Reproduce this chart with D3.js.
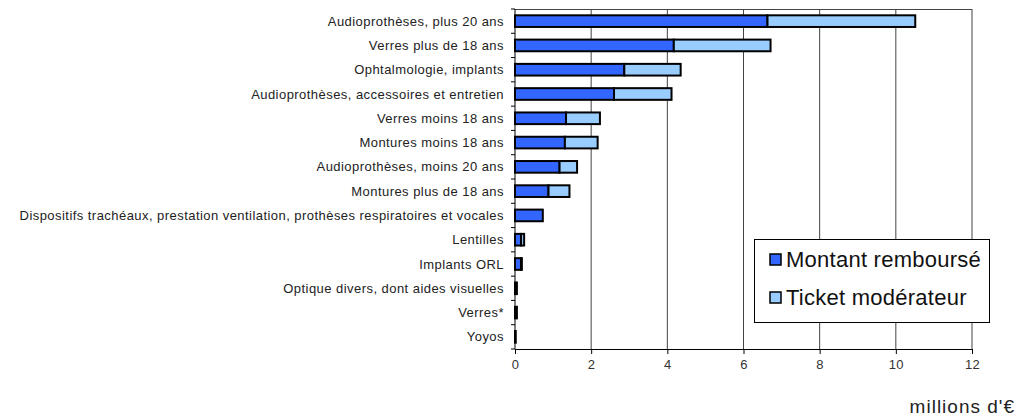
<!DOCTYPE html>
<html><head><meta charset="utf-8">
<script src="https://cdn.jsdelivr.net/npm/d3@7"></script>
<style>body{margin:0;background:#fff}svg{display:block}text{font-family:"Liberation Sans",Arial,sans-serif}</style>
</head><body><svg id="c" width="1021" height="419"></svg>
<script>
const categories = ["Audioprothèses, plus 20 ans","Verres plus de 18 ans","Ophtalmologie, implants","Audioprothèses, accessoires et entretien","Verres moins 18 ans","Montures moins 18 ans","Audioprothèses, moins 20 ans","Montures plus de 18 ans","Dispositifs trachéaux, prestation ventilation, prothèses respiratoires et vocales","Lentilles","Implants ORL","Optique divers, dont aides visuelles","Verres*","Yoyos"];
const montantRembourse = [6.63,4.17,2.87,2.60,1.34,1.31,1.17,0.88,0.73,0.16,0.16,0.05,0.05,0.02];
const ticketModerateur = [3.88,2.54,1.48,1.51,0.89,0.86,0.46,0.55,0.00,0.08,0.02,0.00,0.00,0.00];
const seriesNames = ["Montant remboursé","Ticket modérateur"];
const xTicks = [0,2,4,6,8,10,12];
const colors = ["#3366ff","#99ccff"];

const svg = d3.select("#c");
const L=515, R=972, T=9, B=349;
const x = d3.scaleLinear().domain([0,12]).range([L,R]);
const y = d3.scaleBand().domain(categories).range([T,B]).paddingInner(0.52).paddingOuter(0.26);
const yb = d3.scaleBand().domain(categories).range([T,B]);

// gridlines
svg.append("g").selectAll("line").data(xTicks.slice(1)).join("line")
 .attr("x1",d=>x(d)).attr("x2",d=>x(d)).attr("y1",T).attr("y2",B)
 .attr("stroke","#444").attr("stroke-width",1);
svg.append("line").attr("x1",L).attr("x2",R).attr("y1",T+0.5).attr("y2",T+0.5).attr("stroke","#444");

// bars
const stacks = categories.map((c,i)=>({c, segs:[[0,montantRembourse[i]],[montantRembourse[i],montantRembourse[i]+ticketModerateur[i]]]}));
const gb = svg.append("g");
stacks.forEach(s=>{
  s.segs.forEach((sg,k)=>{
    if(sg[1]-sg[0]<=0) return;
    gb.append("rect").attr("x",x(sg[0])).attr("y",y(s.c)).attr("width",x(sg[1])-x(sg[0])).attr("height",y.bandwidth())
      .attr("fill",colors[k]).attr("stroke","#000").attr("stroke-width",2);
  });
});

// x axis
const xa = svg.append("g").attr("transform",`translate(0,${B})`)
 .call(d3.axisBottom(x).tickValues(xTicks).tickSize(5).tickSizeOuter(0).tickPadding(6));
xa.select(".domain").attr("stroke","#000");
xa.selectAll("line").attr("stroke","#000");
xa.selectAll("text").attr("font-size",13).attr("letter-spacing","0.4px").attr("fill","#333").attr("font-family","Liberation Sans, Arial, sans-serif");

// y axis
svg.append("line").attr("x1",L).attr("x2",L).attr("y1",T).attr("y2",B).attr("stroke","#000");
svg.append("g").selectAll("line").data(categories.concat([null])).join("line")
 .attr("x1",L-4).attr("x2",L).attr("y1",(d,i)=>T+i*yb.step()).attr("y2",(d,i)=>T+i*yb.step()).attr("stroke","#000");
svg.append("g").selectAll("text").data(categories).join("text")
 .attr("x",L-11).attr("y",d=>yb(d)+yb.bandwidth()/2).attr("dy","0.35em")
 .attr("text-anchor","end").attr("font-size",13).attr("letter-spacing","0.45px").attr("fill","#222").text(d=>d);

// legend
const lg = svg.append("g");
lg.append("rect").attr("x",754.5).attr("y",239.5).attr("width",235).attr("height",83).attr("fill","#fff").attr("stroke","#000");
seriesNames.forEach((n,i)=>{
  const yy = 254 + i*38;
  lg.append("rect").attr("x",770).attr("y",yy).attr("width",11).attr("height",11).attr("fill",colors[i]).attr("stroke","#000").attr("stroke-width",1.5);
  lg.append("text").attr("x",786).attr("y",yy+13).attr("font-size",22).attr("letter-spacing","0.25px").attr("fill","#111").text(n);
});

svg.append("text").attr("x",1015).attr("y",413).attr("text-anchor","end").attr("font-size",19).attr("letter-spacing","1px").attr("fill","#222").text("millions d'€");
</script></body></html>
